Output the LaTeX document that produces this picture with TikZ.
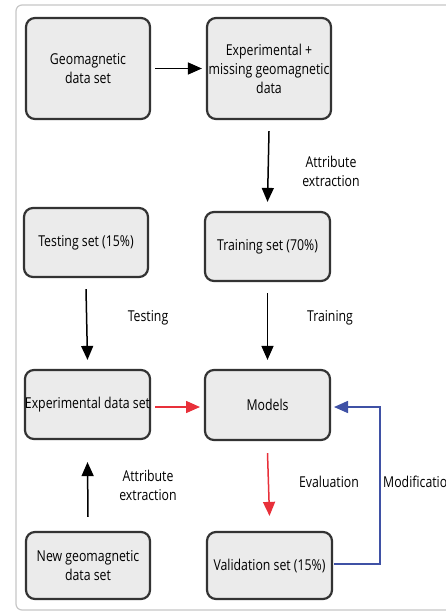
\documentclass[tikz,border=0pt]{standalone}
\usepackage{fontspec}
\setmainfont[FakeStretch=0.82]{Open Sans}
\usetikzlibrary{arrows.meta}
\definecolor{boxfill}{HTML}{EBEBEB}
\definecolor{boxline}{HTML}{333333}
\definecolor{myred}{HTML}{E8303A}
\definecolor{myblue}{HTML}{3F51A5}
\begin{document}
\begin{tikzpicture}[x=1pt,y=-1pt,
  box/.style={draw=boxline, line width=2.2pt, fill=boxfill, rounded corners=9pt, align=center, font=\fontsize{15}{19}\selectfont, inner sep=0pt},
  conn/.style={line width=1.5pt, -{Triangle[length=14pt,width=12pt]}},
  lbl/.style={font=\fontsize{15}{19}\selectfont, align=center, inner sep=0pt}]
\clip (0,0) rectangle (446,613);
\fill[white] (0,0) rectangle (446,613);
\draw[draw=black!22, line width=1.2pt, rounded corners=6pt] (16,5) rectangle (470,610);
\node[box, minimum width=124pt, minimum height=101pt] (geo) at (88,68.5) {Geomagnetic\\data set};
\node[box, minimum width=124pt, minimum height=101pt] (exp) at (269,68.5) {Experimental +\\missing geomagnetic\\data};
\node[box, minimum width=124pt, minimum height=69pt] (test) at (86,242.5) {Testing set (15\%)};
\node[box, minimum width=125pt, minimum height=69pt] (train) at (267.5,246.5) {Training set (70\%)};
\node[box, minimum width=125pt, minimum height=69pt] (expd) at (87.5,404.5) {Experimental data set};
\node[box, minimum width=125pt, minimum height=70pt] (mod) at (267.5,405) {Models};
\node[box, minimum width=124pt, minimum height=67pt] (new) at (88,565.5) {New geomagnetic\\data set};
\node[box, minimum width=125pt, minimum height=67pt] (val) at (269.5,565.5) {Validation set (15\%)};
\draw[conn] ([xshift=4pt]geo.east) -- ([xshift=-4pt]exp.west);
\draw[conn] ([yshift=-11pt]exp.south) -- ([yshift=9pt]train.north);
\node[lbl] (l1) at (331,171) {Attribute\\extraction};
\draw[conn] ([yshift=-11pt]test.south) -- ([yshift=9pt]expd.north);
\node[lbl] (l2) at (148,318) {Testing};
\draw[conn] ([yshift=-11pt]train.south) -- ([yshift=9pt]mod.north);
\node[lbl] (l3) at (330,318) {Training};
\coordinate (r1) at (155,407);
\coordinate (r2) at (200,407);
\draw[conn, draw=myred] (r1) -- (r2);
\draw[conn, draw=myred] ([yshift=-12pt]mod.south) -- ([yshift=15pt]val.north);
\node[lbl] (l4) at (329,482) {Evaluation};
\draw[conn] ([yshift=14pt]new.north) -- ([yshift=-22pt]expd.south);
\node[lbl] (l5) at (148,485) {Attribute\\extraction};
\coordinate (bturn1) at (380,564);
\coordinate (bturn2) at (380,407);
\coordinate (b0) at (334,564);
\coordinate (b3) at (334,407);
\draw[conn, draw=myblue] (b0) -- (bturn1) -- (bturn2) -- (b3);
\node[lbl, anchor=west] (l6) at (383,482) {Modification};
\end{tikzpicture}
\end{document}
